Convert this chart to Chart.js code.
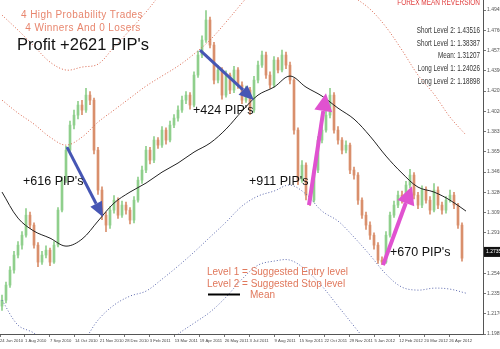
<!DOCTYPE html>
<html>
<head>
<meta charset="utf-8">
<script src="https://cdn.jsdelivr.net/npm/chart.js@4.4.1/dist/chart.umd.min.js"></script>
<style>
  html, body { margin: 0; padding: 0; background: #fff; }
  canvas { display: block; }
</style>
</head>
<body>
<canvas id="c" width="500" height="349"></canvas>
<script>
// price data, one candle per ~4 trading days (open = previous close)
const firstOpen = 1.2240;
const closes = [
  1.2294,1.2432,1.2569,1.2706,1.2797,1.2888,1.3071,1.2980,1.2797,1.2642,
  1.2706,1.2751,1.2642,1.2797,1.3117,1.3391,1.3665,1.3894,1.3985,1.4077,
  1.4031,1.4168,1.4122,1.3665,1.3300,1.3071,1.2980,1.3117,1.3208,1.3071,
  1.3163,1.3117,1.3026,1.3208,1.3391,1.3483,1.3665,1.3574,1.3757,1.3711,
  1.3848,1.3757,1.3894,1.3958,1.4031,1.4122,1.4168,1.4077,1.4351,1.4534,
  1.4671,1.4854,1.4625,1.4305,1.4397,1.4168,1.4351,1.4214,1.4397,1.4260,
  1.4122,1.4214,1.4031,1.4305,1.4442,1.4534,1.4351,1.4260,1.4488,1.4397,
  1.4534,1.4442,1.4305,1.3848,1.3391,1.3528,1.3254,1.3208,1.3483,1.3757,
  1.3848,1.3985,1.4168,1.3848,1.3757,1.3665,1.3711,1.3483,1.3437,1.3208,
  1.3071,1.2980,1.2888,1.2797,1.2660,1.2642,1.2888,1.3071,1.3163,1.3254,
  1.3208,1.3346,1.3437,1.3254,1.3163,1.3300,1.3208,1.3117,1.3300,1.3163,
  1.3117,1.3208,1.3254,1.3163,1.2980,1.2678
];
const highs = [
  1.2340,1.2460,1.2600,1.2740,1.2830,1.2920,1.3130,1.3100,1.3000,1.2820,
  1.2740,1.2790,1.2770,1.2830,1.3140,1.3420,1.3700,1.3930,1.4030,1.4110,
  1.4120,1.4230,1.4200,1.4140,1.3690,1.3330,1.3100,1.3150,1.3250,1.3230,
  1.3200,1.3190,1.3140,1.3240,1.3420,1.3520,1.3700,1.3690,1.3790,1.3780,
  1.3880,1.3870,1.3930,1.3990,1.4070,1.4160,1.4200,1.4190,1.4380,1.4570,
  1.4710,1.4940,1.4880,1.4650,1.4440,1.4420,1.4390,1.4370,1.4430,1.4420,
  1.4290,1.4250,1.4240,1.4340,1.4480,1.4570,1.4560,1.4380,1.4520,1.4510,
  1.4580,1.4560,1.4470,1.4320,1.3870,1.3570,1.3550,1.3290,1.3510,1.3790,
  1.3880,1.4020,1.4230,1.4190,1.3880,1.3780,1.3750,1.3730,1.3510,1.3460,
  1.3230,1.3100,1.3010,1.2910,1.2820,1.2690,1.2920,1.3100,1.3200,1.3290,
  1.3290,1.3380,1.3490,1.3460,1.3280,1.3340,1.3330,1.3240,1.3360,1.3330,
  1.3190,1.3240,1.3300,1.3280,1.3180,1.3000
];
const lows = [
  1.2200,1.2270,1.2410,1.2540,1.2680,1.2760,1.2870,1.2950,1.2770,1.2600,
  1.2620,1.2680,1.2610,1.2630,1.2780,1.3100,1.3370,1.3640,1.3860,1.3950,
  1.3990,1.4010,1.4080,1.3630,1.3260,1.3030,1.2920,1.2950,1.3090,1.3040,
  1.3050,1.3080,1.2990,1.3000,1.3190,1.3360,1.3460,1.3540,1.3550,1.3680,
  1.3690,1.3720,1.3740,1.3870,1.3930,1.4010,1.4090,1.4040,1.4060,1.4330,
  1.4510,1.4650,1.4600,1.4270,1.4280,1.4130,1.4150,1.4180,1.4190,1.4230,
  1.4090,1.4100,1.3990,1.4010,1.4280,1.4420,1.4320,1.4230,1.4240,1.4370,
  1.4380,1.4410,1.4270,1.3810,1.3350,1.3370,1.3210,1.3160,1.3190,1.3460,
  1.3730,1.3830,1.3960,1.3820,1.3720,1.3630,1.3640,1.3450,1.3400,1.3170,
  1.3040,1.2940,1.2850,1.2760,1.2630,1.2620,1.2630,1.2870,1.3050,1.3140,
  1.3180,1.3190,1.3320,1.3220,1.3130,1.3140,1.3180,1.3080,1.3100,1.3130,
  1.3080,1.3090,1.3190,1.3130,1.2950,1.2650
];

// indicator lines, sampled every 4 candles
const bandIdx = [0,4,8,12,16,20,24,28,32,36,40,44,48,52,56,60,64,68,72,76,80,84,88,92,96,100,104,108,112,116];
const meanLine = [1.3282,1.3044,1.2925,1.2861,1.2788,1.2852,1.3017,1.3181,1.3282,1.3364,1.3464,1.3547,1.3647,1.3729,1.3857,
                  1.4022,1.4168,1.4241,1.4342,1.4241,1.4159,1.4049,1.3949,1.3793,1.3611,1.3455,1.3327,1.3282,1.3208,1.3108];
const upper1 = [1.4122,1.4004,1.3903,1.3784,1.3711,1.3784,1.3921,1.4031,1.4141,1.4250,1.4342,1.4433,1.4543,1.4671,1.4835,
                1.5009,1.5174,1.5311,1.5402,1.5384,1.5311,1.5174,1.5064,1.4954,1.4790,1.4579,1.4351,1.4177,1.3967,1.3803];
const upper2 = [1.4899,1.4762,1.4616,1.4470,1.4397,1.4424,1.4451,1.4607,1.4762,1.4927,1.5110,1.5292]; // idx 0..44
const lower1 = [1.2294,1.2066,1.1993,1.1865,1.1792,1.1901,1.2112,1.2249,1.2331,1.2377,1.2486,1.2605,1.2733,1.2870,1.3007,
                1.3154,1.3245,1.3291,1.3346,1.3263,1.3108,1.3017,1.2870,1.2706,1.2532,1.2413,1.2386,1.2404,1.2395,1.2358];
const lower2 = [1.1728,1.1856,1.1984,1.2084,1.2185,1.2322,1.2486,1.2614,1.2651,1.2660,1.2569,1.2422,1.2240,1.2057,1.1874]; // idx 36..92

const yTicks = [1.1985,1.2170,1.2355,1.2540,1.2725,1.2910,1.3095,1.3280,1.3465,1.3650,1.3835,1.4020,1.4205,1.4390,1.4575,1.4760,1.4945];
const dateLabels = ["24 Jun 2010","1 Aug 2010","7 Sep 2010","14 Oct 2010","21 Nov 2010","28 Dec 2010","3 Feb 2011",
  "13 Mar 2011","19 Apr 2011","26 May 2011","3 Jul 2011","9 Aug 2011","15 Sep 2011","22 Oct 2011","29 Nov 2011",
  "5 Jan 2012","12 Feb 2012","20 Mar 2012","26 Apr 2012"];
const currentPrice = 1.2735;

// trade arrows [candle index, price]
const arrows = [
  { from: [16.25, 1.3693], to: [25.25, 1.3053], color: "#4656b4" },
  { from: [49.5, 1.4579],  to: [63, 1.4122],    color: "#4656b4" },
  { from: [76.75, 1.3163], to: [81, 1.4186],    color: "#e052d0" },
  { from: [95.25, 1.2614], to: [102.5, 1.3336], color: "#e052d0" }
];

const upColor = "#8fcf8c", downColor = "#d98f6c";
const opens = closes.map((c, i) => i === 0 ? firstOpen : closes[i - 1]);
const candleColors = closes.map((c, i) => c >= opens[i] ? upColor : downColor);

function line(values, idx, color, dash, order) {
  return {
    type: "line",
    data: values.map((v, k) => ({ x: idx[k], y: v })),
    borderColor: color, borderWidth: 1, borderDash: dash,
    pointRadius: 0, tension: 0.35, fill: false, order: order
  };
}

function drawArrow(ctx, x1, y1, x2, y2, color, lw, hl, hw) {
  const a = Math.atan2(y2 - y1, x2 - x1);
  const bx = x2 - hl * Math.cos(a), by = y2 - hl * Math.sin(a);
  ctx.strokeStyle = color; ctx.lineWidth = lw;
  ctx.beginPath(); ctx.moveTo(x1, y1); ctx.lineTo(bx, by); ctx.stroke();
  ctx.fillStyle = color;
  ctx.beginPath();
  ctx.moveTo(x2, y2);
  ctx.lineTo(bx + hw / 2 * Math.sin(a), by - hw / 2 * Math.cos(a));
  ctx.lineTo(bx - hw / 2 * Math.sin(a), by + hw / 2 * Math.cos(a));
  ctx.closePath(); ctx.fill();
}

function narrowText(ctx, txt, x, y, font, color, sx) {
  ctx.save();
  ctx.translate(x, y); ctx.scale(sx, 1);
  ctx.font = font; ctx.fillStyle = color; ctx.textAlign = "right";
  ctx.fillText(txt, 0, 0);
  ctx.restore();
}

const overlay = {
  id: "overlay",
  afterDatasetsDraw(chart) {
    const ctx = chart.ctx, xs = chart.scales.x, ys = chart.scales.y;
    ctx.save();
    arrows.forEach(ar => {
      const pink = ar.color === "#e052d0";
      drawArrow(ctx, xs.getPixelForValue(ar.from[0]), ys.getPixelForValue(ar.from[1]),
        xs.getPixelForValue(ar.to[0]), ys.getPixelForValue(ar.to[1]),
        ar.color, pink ? 4 : 3, pink ? 18 : 15, pink ? 18 : 13);
    });
    ctx.restore();
  },
  afterDraw(chart) {
    const ctx = chart.ctx, ys = chart.scales.y;
    ctx.save();
    ctx.textBaseline = "middle";
    const f = "Liberation Sans, Arial, sans-serif";

    ctx.fillStyle = "#e8866e"; ctx.textAlign = "center"; ctx.font = "10px " + f;
    ctx.letterSpacing = "0.4px";
    ctx.fillText("4 High Probability Trades", 82, 15);
    ctx.fillText("4 Winners And 0 Losers", 83, 28);
    ctx.letterSpacing = "0px";

    ctx.fillStyle = "#111"; ctx.textAlign = "left";
    ctx.font = "16.5px " + f;
    ctx.fillText("Profit +2621 PIP's", 17, 45);
    ctx.font = "12.5px " + f;
    ctx.fillText("+424 PIP's", 193, 111);
    ctx.fillText("+616 PIP's", 23, 182);
    ctx.fillText("+911 PIP's", 249, 182);
    ctx.fillText("+670 PIP's", 390, 253);

    ctx.fillStyle = "#e0785c"; ctx.font = "10px " + f;
    ctx.fillText("Level 1 = Suggested Entry level", 207, 272);
    ctx.fillText("Level 2 = Suggested Stop level", 207, 284);
    ctx.fillText("Mean", 250, 295);
    ctx.strokeStyle = "#000"; ctx.lineWidth = 2;
    ctx.beginPath(); ctx.moveTo(208, 294.5); ctx.lineTo(240, 294.5); ctx.stroke();

    ctx.textBaseline = "alphabetic";
    narrowText(ctx, "FOREX MEAN REVERSION", 480, 5, "9px " + f, "#e03a3a", 0.72);
    const info = ["Short Level 2: 1.43516", "Short Level 1: 1.38387", "Mean: 1.31207",
                  "Long Level 1: 1.24026", "Long Level 2: 1.18898"];
    info.forEach((t, i) => narrowText(ctx, t, 480, 33 + i * 12.7, "8.5px " + f, "#333", 0.74));

    const py = ys.getPixelForValue(currentPrice);
    ctx.fillStyle = "#111"; ctx.fillRect(484, py - 5, 16, 10);
    ctx.fillStyle = "#fff"; ctx.font = "5px " + f; ctx.textAlign = "left"; ctx.textBaseline = "middle";
    ctx.fillText(currentPrice.toFixed(5), 486, py);
    ctx.restore();
  }
};

new Chart(document.getElementById("c"), {
  type: "bar",
  data: {
    datasets: [
      line(meanLine, bandIdx, "#222", [], 1),
      line(upper1, bandIdx, "#d9634a", [1, 2], 2),
      line(upper2, bandIdx.slice(0, 12), "#d9634a", [1, 2], 2),
      line(lower1, bandIdx, "#5a67ad", [1, 2], 2),
      line(lower2, bandIdx.slice(9, 24), "#5a67ad", [1, 2], 2),
      {
        data: closes.map((c, i) => ({ x: i, y: [opens[i], c] })),
        backgroundColor: candleColors, barThickness: 2, grouped: false, order: 4
      },
      {
        data: closes.map((c, i) => ({ x: i, y: [lows[i], highs[i]] })),
        backgroundColor: candleColors, barThickness: 1, grouped: false, order: 5
      }
    ]
  },
  options: {
    responsive: false,
    animation: false,
    devicePixelRatio: 1,
    layout: { padding: 0 },
    plugins: { legend: { display: false }, tooltip: { enabled: false } },
    scales: {
      x: {
        type: "linear", offset: false, min: -0.5, max: 120.25,
        grid: { drawOnChartArea: false, offset: false, tickLength: 3, color: "#777" },
        border: { color: "#555" },
        afterBuildTicks: s => { s.ticks = dateLabels.map((_, k) => ({ value: -0.5 + k * 6.24 })); },
        afterFit: s => { s.height = 15; s.paddingLeft = 0; s.paddingRight = 0; },
        ticks: {
          autoSkip: false, maxRotation: 0, align: "start", padding: 1, color: "#444",
          font: { size: 4.2, family: "Liberation Sans Narrow, Liberation Sans, Arial" },
          callback: (v, i) => dateLabels[i]
        }
      },
      y: {
        position: "right", min: 1.1985, max: 1.5037,
        grid: { drawOnChartArea: false, tickLength: 3, color: "#777" },
        border: { color: "#555" },
        afterBuildTicks: s => { s.ticks = yTicks.map(v => ({ value: v })); },
        afterFit: s => { s.width = 17; s.paddingTop = 0; s.paddingBottom = 0; },
        ticks: {
          padding: 1, color: "#555",
          font: { size: 5, family: "Liberation Sans Narrow, Liberation Sans, Arial" },
          callback: v => v.toFixed(5)
        }
      }
    }
  },
  plugins: [overlay]
});
</script>
</body>
</html>
